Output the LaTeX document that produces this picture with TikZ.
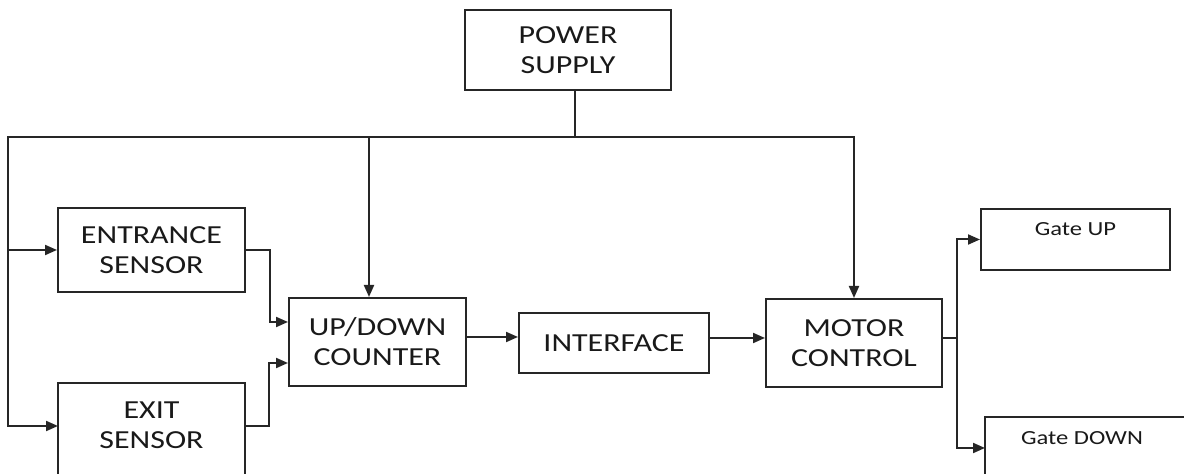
\documentclass[tikz,border=0pt]{standalone}
\usepackage{fontspec}
\setmainfont{Carlito}
\newfontfamily\boxfont[FakeStretch=1.23]{Carlito}
\usetikzlibrary{arrows.meta}
\begin{document}
\begin{tikzpicture}[x=0.5pt,y=-0.5pt,
  ln/.style={line width=1pt, draw=black!85},
  arr/.style={ln, -{Triangle[length=6pt,width=5pt]}},
  arrboth/.style={ln, {Triangle[length=6pt,width=5pt]}-{Triangle[length=6pt,width=5pt]}},
  big/.style={font=\boxfont\fontsize{13}{15}\selectfont, align=center, inner sep=0pt, text=black!90},
  small/.style={font=\boxfont\fontsize{10}{12}\selectfont, inner sep=0pt, text=black!90},
  blk/.style={big, draw=black!85, line width=1pt}]
\useasboundingbox (0,0) rectangle (1184,474);

% blocks
\node[blk, minimum width=103pt, minimum height=40pt] (power) at (568,50) {POWER\\SUPPLY};
\node[blk, minimum width=93.5pt, minimum height=42pt] (entrance) at (151.5,250) {ENTRANCE\\SENSOR};
\node[big] (exit) at (151.5,425) {EXIT\\SENSOR};
\draw[ln] (58,482) |- (245,383) -- (245,482);
\node[blk, minimum width=88.5pt, minimum height=44pt] (counter) at (377.5,342) {UP/DOWN\\COUNTER};
\node[blk, minimum width=95pt, minimum height=30pt] (interface) at (614,343) {INTERFACE};
\node[blk, minimum width=88pt, minimum height=44pt] (motor) at (854,343) {MOTOR\\CONTROL};
\node[small, draw=black!85, line width=1pt, anchor=north, minimum width=94.5pt,
      text height=13.2pt, text depth=17.3pt] (gateup) at (1075.5,208) {Gate UP};
\node[small] (gatedown) at (1082,438) {Gate DOWN};
\draw[ln] (985,482) |- (1192,417);

% coordinates
\coordinate (bL) at (8,137);
\coordinate (bC) at (369,137);
\coordinate (bJ) at (575,137);
\coordinate (bR) at (854,137);
\coordinate (exitW) at (58,426);
\coordinate (exitE) at (245,426);
\coordinate (mJ) at (957,338);
\coordinate (gdW) at (985,448);

% power distribution
\draw[ln] (bJ |- power.south) -- (bJ);
\draw[arrboth] (motor.north) -- (bR) -- (bL) |- (exitW);
\draw[arr] (bL |- entrance.west) -- (entrance.west);
\draw[arr] (bC) -- (counter.north -| bC);

% signal path
\draw[arr] (entrance.east) -- ++(12pt,0) |- ([yshift=10pt]counter.west);
\draw[arr] (exitE) -- ++(12pt,0) |- ([yshift=-10.5pt]counter.west);
\draw[arr] ([yshift=2.5pt]counter.east) -- ([yshift=2.5pt]counter.east -| interface.west);
\draw[arr] (mJ -| interface.east) -- (mJ -| motor.west);
\draw[ln] (mJ -| motor.east) -- (mJ);
\draw[arrboth] (gateup.west) -| (mJ) |- (gdW);
\end{tikzpicture}
\end{document}
